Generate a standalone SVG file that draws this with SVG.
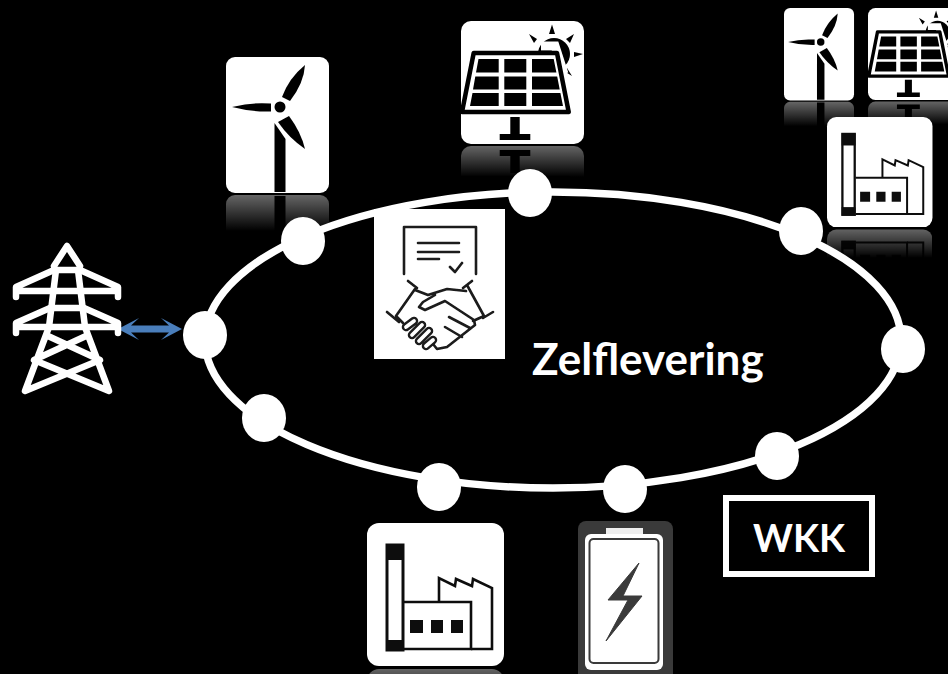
<svg xmlns="http://www.w3.org/2000/svg" width="948" height="674" viewBox="0 0 948 674">
<style>
.lbl{font-family:"Lato","Liberation Sans",sans-serif;font-weight:700;fill:#fff}
.dot{fill:#fff}
.tw{fill:none;stroke:#fff;stroke-width:6.500;stroke-linecap:round;stroke-linejoin:round}
.hs{fill:none;stroke:#1a1a1a;stroke-width:2.600;stroke-linecap:round;stroke-linejoin:round}
.fo{fill:none;stroke:#1a1a1a;stroke-width:8.500;stroke-linecap:round}
.fi{fill:none;stroke:#fff;stroke-width:3.800;stroke-linecap:round}
.fl{fill:none;stroke:#111;stroke-width:2.600}
.soft{filter:url(#soft)}
</style>
<defs>
<filter id="soft" x="-5%" y="-5%" width="110%" height="110%"><feGaussianBlur stdDeviation=".45"/></filter>
<linearGradient id="fade" x1="0" y1="0" x2="0" y2="1"><stop offset="0" stop-color="#fff" stop-opacity=".42"/><stop offset="1" stop-color="#fff" stop-opacity="0"/></linearGradient>
<mask id="mw" maskUnits="userSpaceOnUse" x="0" y="136" width="103" height="40"><rect x="0" y="136" width="103" height="38" fill="url(#fade)"/></mask>
<mask id="ms" maskUnits="userSpaceOnUse" x="0" y="123" width="123" height="40"><rect x="0" y="123" width="123" height="33" fill="url(#fade)"/></mask>
<mask id="mf" maskUnits="userSpaceOnUse" x="0" y="143" width="137" height="45"><rect x="0" y="143" width="137" height="40" fill="url(#fade)"/></mask>
<g id="wind-face">
<rect width="103" height="136" rx="9" fill="#fff"/>
<path d="M6,50Q25,45 45,46.500L45,54.500Q25,55 6,50Z"/>
<path d="M79,8Q63,21 56,40L64,44Q78,26 79,8Z"/>
<path d="M79,92Q75,75 63,59L52,65Q63,81 79,92Z"/>
<circle cx="54" cy="50" r="5.500"/>
<path d="M48.500,66L59.500,82V135H48.500Z"/>
</g>
<g id="solar-face">
<rect width="123" height="123" rx="10" fill="#fff"/>
<path d="M91,3.500L88,13H94ZM113,13L105,18L109,22ZM68,13L76,18L73,22ZM122,33L113,31V36ZM111,55L103,50L106,47Z"/>
<circle cx="93" cy="33" r="16"/>
<path d="M80,25H94L103,53" fill="none" stroke="#fff" stroke-width="9"/>
<path d="M12.700,32H96L107.700,91H1Z" fill="#fff" stroke="#000" stroke-width="4.500" stroke-linejoin="round"/>
<path d="M17.500,38H37.700V51.500H15ZM43.300,38H65.300V51.500H43.300ZM71,38H92.700L95.400,51.500H71ZM14.300,55.500H37.700V68.500H12ZM43.300,55.500H65.300V68.500H43.300ZM71,55.500H96.200L98.700,68.500H71ZM11.500,72H37.700V85H9ZM43.300,72H65.300V85H43.300ZM71,72H99.400L102,85H71Z"/>
<path d="M49.300,96H58.700V113H69.300V119H38.700V113H49.300Z"/>
</g>
<g id="factory-face">
<rect width="137" height="143" rx="12" fill="#fff"/>
<rect x="20" y="22" width="16" height="105" fill="#fff" stroke="#111" stroke-width="3"/>
<rect x="19" y="21" width="18" height="16" fill="#111"/>
<rect x="19" y="117" width="18" height="11" fill="#111"/>
<path class="fl" d="M37,79H104V126H37"/>
<path class="fl" d="M72,79V55L88,63L89,56L105,63L106,56L125,65V126H104"/>
<path d="M43,97H56V110H43ZM64,97H76V110H64ZM84,97H96V110H84Z" fill="#111"/>
</g>
</defs>
<rect id="background" width="948" height="674" fill="#000"/>

<g id="wind-large" transform="translate(226,57)">
<use href="#wind-face" class="soft"/>
<g mask="url(#mw)"><use href="#wind-face" transform="matrix(1 0 0 -1 0 274)"/></g>
</g>
<g id="solar-large" transform="translate(461,21)">
<use href="#solar-face" class="soft"/>
<g mask="url(#ms)"><use href="#solar-face" transform="matrix(1 0 0 -1 0 248)"/></g>
</g>
<g id="wind-small" transform="translate(784,8) scale(.68)">
<use href="#wind-face" class="soft"/>
<g mask="url(#mw)"><use href="#wind-face" transform="matrix(1 0 0 -1 0 274)"/></g>
</g>
<g id="solar-small" transform="translate(868,8) scale(.748)">
<use href="#solar-face" class="soft"/>
<g mask="url(#ms)"><use href="#solar-face" transform="matrix(1 0 0 -1 0 248)"/></g>
</g>
<g id="factory-small" transform="translate(827,117) scale(.77)">
<use href="#factory-face" class="soft"/>
<g mask="url(#mf)"><use href="#factory-face" transform="matrix(1 0 0 -1 0 289)"/></g>
</g>
<g id="factory-large" transform="translate(367,523)">
<use href="#factory-face" class="soft"/>
<g mask="url(#mf)"><use href="#factory-face" transform="matrix(1 0 0 -1 0 289)"/></g>
</g>

<g id="connectors">
<ellipse cx="553" cy="340" rx="348" ry="148" fill="none" stroke="#fff" stroke-width="7.500"/>
<path d="M118,329L139,318L131,325.500H169L161,318L182,329L161,340L169,332.500H131L139,340Z" fill="#4a7ebb"/>
</g>

<g id="ring-nodes">
<ellipse id="n1" class="dot" cx="205" cy="335" rx="22" ry="24"/>
<ellipse id="n2" class="dot" cx="303" cy="241" rx="22" ry="24"/>
<ellipse id="n3" class="dot" cx="530" cy="193" rx="22" ry="24"/>
<ellipse id="n4" class="dot" cx="801" cy="231" rx="22" ry="24"/>
<ellipse id="n5" class="dot" cx="903" cy="349" rx="22" ry="24"/>
<ellipse id="n6" class="dot" cx="777" cy="456" rx="22" ry="24"/>
<ellipse id="n7" class="dot" cx="625" cy="489" rx="22" ry="24"/>
<ellipse id="n8" class="dot" cx="439" cy="487" rx="22" ry="24"/>
<ellipse id="n9" class="dot" cx="264" cy="418" rx="22" ry="24"/>
</g>

<g id="pylon">
<path class="tw" d="M54,266L67,246L80,266M54,270H80M54,270L16,287V297M80,270L118,287V297M16,291H118"/>
<path class="tw" d="M50,308H84M50,308L16,323V333M84,308L118,323V333M16,327H118"/>
<path class="tw" d="M56,270L49,327L25,391L100,360L48,336M78,270L85,327L109,391L34,360L86,336"/>
</g>

<g id="agreement">
<rect x="374" y="209" width="131" height="150" fill="#fff"/>
<g class="soft">
<path class="hs" d="M404,274V227H476V274M418,243H459M418,252H459M418,259H439M450,267L455,272L462,263"/>
<path class="hs" d="M408,281L417,288M472,281L463,288M387,312L399,322M493,312L483,318M415,289L396,316L403,323M467,285L484,316L473,321"/>
<path class="hs" d="M415,290L428,295L447,289L466,291M435,295L423,302L419,307L425,310L445,301L474,320L475,325L447,347L437,349L433,344M449,317L470,328M445,327L462,337"/>
<path class="fo" d="M406,327L414,321M412,335L422,325M419,341L429,331M426,346L433,340"/>
<path class="fi" d="M406,327L414,321M412,335L422,325M419,341L429,331M426,346L433,340"/>
</g>
</g>

<g id="battery">
<rect x="578" y="521" width="95" height="160" rx="8" fill="#3a3a3a"/>
<rect x="606" y="528" width="37" height="9" fill="#eee"/>
<rect x="585" y="534" width="78" height="136" rx="6" fill="#fff"/>
<rect x="589.500" y="539" width="69" height="124" rx="4" fill="#fff" stroke="#3a3a3a" stroke-width="2"/>
<path d="M639,563L608,600H628L606,641L642,596H623Z" fill="#3a3a3a" stroke="#3a3a3a" stroke-width="1" stroke-linejoin="round"/>
</g>

<g id="wkk">
<rect x="726" y="498" width="146" height="76" fill="#000" stroke="#fff" stroke-width="6"/>
<text class="lbl" x="799" y="552" font-size="38" text-anchor="middle">WKK</text>
</g>
<text id="title" class="lbl" x="532" y="375" font-size="44">Zelflevering</text>
</svg>
